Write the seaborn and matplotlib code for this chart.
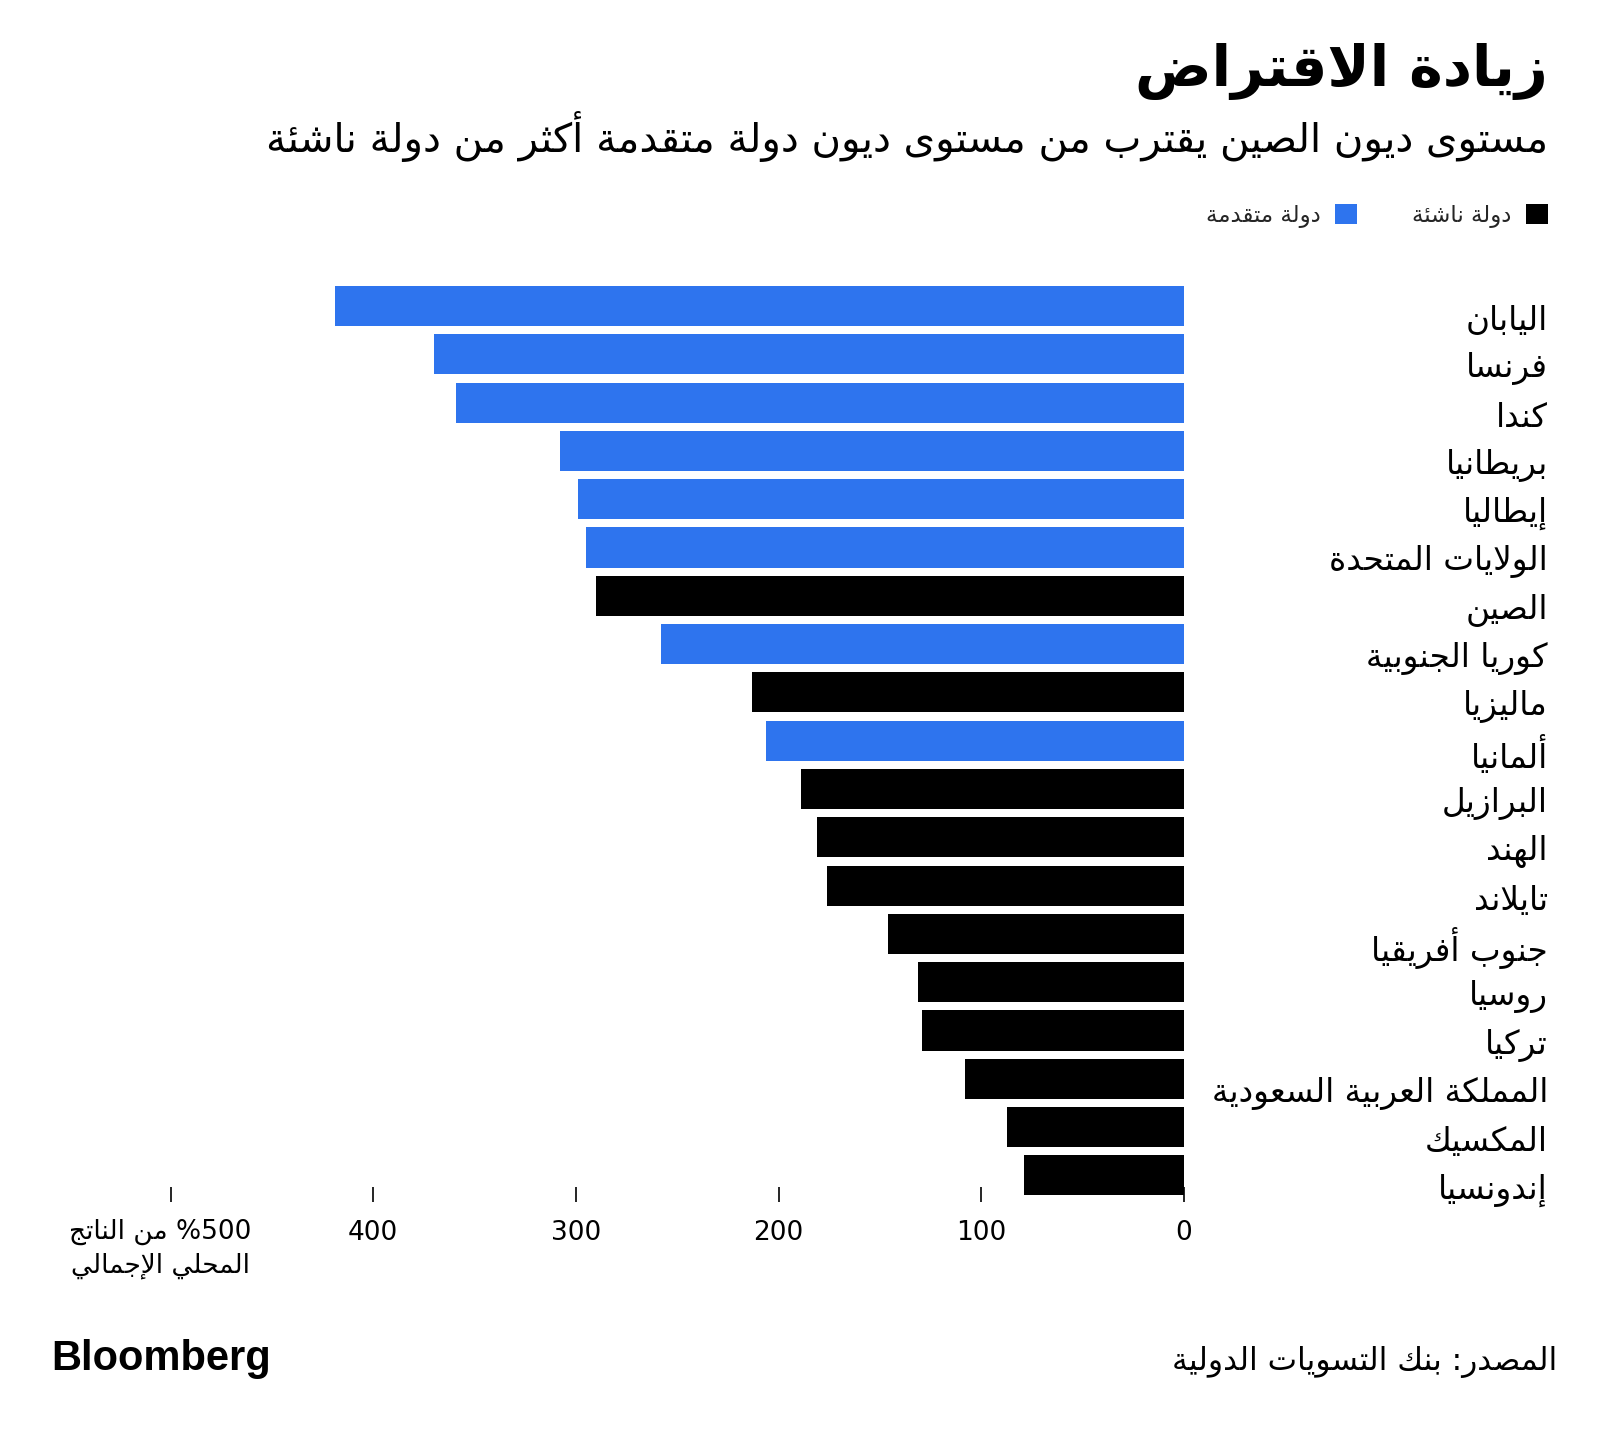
import numpy as np
import pandas as pd
import matplotlib
matplotlib.use("Agg")
import matplotlib.pyplot as plt
import seaborn as sns
from matplotlib.patches import Patch
from matplotlib.transforms import blended_transform_factory

# ---------------- data ----------------
title = "زيادة الاقتراض"
subtitle = "مستوى ديون الصين يقترب من مستوى ديون دولة متقدمة أكثر من دولة ناشئة"
countries = ["اليابان", "فرنسا", "كندا", "بريطانيا", "إيطاليا", "الولايات المتحدة",
             "الصين", "كوريا الجنوبية", "ماليزيا", "ألمانيا", "البرازيل", "الهند",
             "تايلاند", "جنوب أفريقيا", "روسيا", "تركيا", "المملكة العربية السعودية",
             "المكسيك", "إندونسيا"]
debt = [419, 370, 359, 308, 299, 295, 290, 258, 213, 206, 189, 181, 176, 146,
        131, 129, 108, 87, 79]
group = ["advanced", "advanced", "advanced", "advanced", "advanced", "advanced",
         "emerging", "advanced", "emerging", "advanced", "emerging", "emerging",
         "emerging", "emerging", "emerging", "emerging", "emerging", "emerging",
         "emerging"]
group_names = {"emerging": "دولة ناشئة", "advanced": "دولة متقدمة"}
colors = {"emerging": "#000000", "advanced": "#2E74EE"}
xticks = [0, 100, 200, 300, 400, 500]
xtick_labels = ["0", "100", "200", "300", "400", ""]
unit_line1 = "من الناتج"
unit_number = "%500"
unit_line2 = "المحلي الإجمالي"
source = "المصدر: بنك التسويات الدولية"
brand = "Bloomberg"

# ---------------- minimal Arabic shaping (presentation forms + RTL) ----------------
DUAL = {'ئ': 0xFE89, 'ب': 0xFE8F, 'ت': 0xFE95, 'ث': 0xFE99, 'ج': 0xFE9D, 'ح': 0xFEA1,
        'خ': 0xFEA5, 'س': 0xFEB1, 'ش': 0xFEB5, 'ص': 0xFEB9, 'ض': 0xFEBD, 'ط': 0xFEC1,
        'ظ': 0xFEC5, 'ع': 0xFEC9, 'غ': 0xFECD, 'ف': 0xFED1, 'ق': 0xFED5, 'ك': 0xFED9,
        'ل': 0xFEDD, 'م': 0xFEE1, 'ن': 0xFEE5, 'ه': 0xFEE9, 'ي': 0xFEF1}
RIGHT = {'آ': 0xFE81, 'أ': 0xFE83, 'ؤ': 0xFE85, 'إ': 0xFE87, 'ا': 0xFE8D, 'ة': 0xFE93,
         'د': 0xFEA9, 'ذ': 0xFEAB, 'ر': 0xFEAD, 'ز': 0xFEAF, 'و': 0xFEED, 'ى': 0xFEEF}
LAM_ALEF = {'ا': 0xFEFB, 'أ': 0xFEF7, 'إ': 0xFEF9, 'آ': 0xFEF5}


def shape(s):
    toks = []
    i = 0
    while i < len(s):
        c = s[i]
        if c == 'ل' and i + 1 < len(s) and s[i + 1] in LAM_ALEF:
            toks.append(('LA', LAM_ALEF[s[i + 1]]))
            i += 2
            continue
        if c in DUAL:
            toks.append(('D', DUAL[c]))
        elif c in RIGHT:
            toks.append(('R', RIGHT[c]))
        elif c == 'ء':
            toks.append(('N', 0xFE80))
        else:
            toks.append(('X', c))
        i += 1
    out = []
    for k, (t, v) in enumerate(toks):
        if t == 'X':
            out.append(v)
            continue
        if t == 'N':
            out.append(chr(v))
            continue
        prev = toks[k - 1][0] if k > 0 else None
        nxt = toks[k + 1][0] if k + 1 < len(toks) else None
        jp = prev == 'D'
        jn = (t == 'D') and nxt in ('D', 'R', 'LA')
        if t in ('R', 'LA'):
            out.append(chr(v + (1 if jp else 0)))
        else:
            off = 3 if (jp and jn) else 1 if jp else 2 if jn else 0
            out.append(chr(v + off))
    return ''.join(out)


def rtl(s):
    return shape(s)[::-1]


# ---------------- figure ----------------
sns.set_style("white")
plt.rcParams["font.family"] = ["DejaVu Sans"]

W, H = 1600, 1437
fig = plt.figure(figsize=(W / 100, H / 100), dpi=100)
fig.patch.set_facecolor("white")

x0_px, x500_px = 1183.7, 170.7
ax_top_px, ax_bot_px = 277, 1202
ax = fig.add_axes([x500_px / W, (H - ax_bot_px) / H,
                   (x0_px - x500_px) / W, (ax_bot_px - ax_top_px) / H])

df = pd.DataFrame({"country": countries, "debt": debt, "group": group})
sns.barplot(data=df, x="debt", y="country", hue="group", order=countries,
            hue_order=["advanced", "emerging"], palette=colors, dodge=False,
            width=0.83, orient="h", saturation=1, legend=False, ax=ax,
            edgecolor="none", linewidth=0)

ax.set_xlim(500, 0)
ax.set_ylim(18.55, -0.6)
for s in ax.spines.values():
    s.set_visible(False)
ax.set_xlabel("")
ax.set_ylabel("")
ax.set_yticks(range(len(countries)))
ax.set_yticklabels([""] * len(countries))
ax.tick_params(axis="y", left=False, right=False)
ax.set_xticks(xticks)
ax.set_xticklabels(xtick_labels)
ax.tick_params(axis="x", direction="in", length=10.8, width=1.2, color="black",
               pad=13, labelsize=19, labelcolor="black", bottom=True)
ax.grid(False)

# country labels on the right
trans_lab = blended_transform_factory(fig.transFigure, ax.transData)
for i, name in enumerate(countries):
    ax.text(1548 / W, i + 0.3, rtl(name), transform=trans_lab, ha="right",
            va="center", fontsize=23.5, color="black", clip_on=False)

# unit label under the 500 position
trans_unit = blended_transform_factory(ax.transData, fig.transFigure)
ax.text(505, 1 - 1232 / H, rtl(unit_line1) + " " + unit_number, transform=trans_unit,
        ha="center", va="center", fontsize=19, color="black", clip_on=False)
ax.text(505, 1 - 1266 / H, rtl(unit_line2), transform=trans_unit,
        ha="center", va="center", fontsize=19, color="black", clip_on=False)

# title and subtitle
fig.text(1548 / W, 1 - 72 / H, rtl(title), ha="right", va="center",
         fontsize=41, fontweight="bold", color="black")
fig.text(1548 / W, 1 - 136 / H, rtl(subtitle), ha="right", va="center",
         fontsize=29, color="black")

# legend (RTL: marker on the right of each label)
handles = [Patch(facecolor=colors["advanced"], edgecolor="none",
                 label=rtl(group_names["advanced"])),
           Patch(facecolor=colors["emerging"], edgecolor="none",
                 label=rtl(group_names["emerging"]))]
fig.legend(handles=handles, ncol=2, markerfirst=False, frameon=False,
           loc="center right", bbox_to_anchor=(1548 / W, 1 - 216 / H),
           bbox_transform=fig.transFigure, fontsize=16.5, handlelength=0.98,
           handleheight=0.98, handletextpad=0.62, columnspacing=2.4,
           borderpad=0, borderaxespad=0)

# footer
fig.text(51 / W, 1 - 1359 / H, brand, ha="left", va="center", fontsize=30,
         fontweight="bold", family=["Liberation Sans", "DejaVu Sans"], color="black")
fig.text(1557 / W, 1 - 1362 / H, rtl(source), ha="right", va="center",
         fontsize=22.5, color="black")

fig.savefig("out.png", dpi=100, facecolor="white")
